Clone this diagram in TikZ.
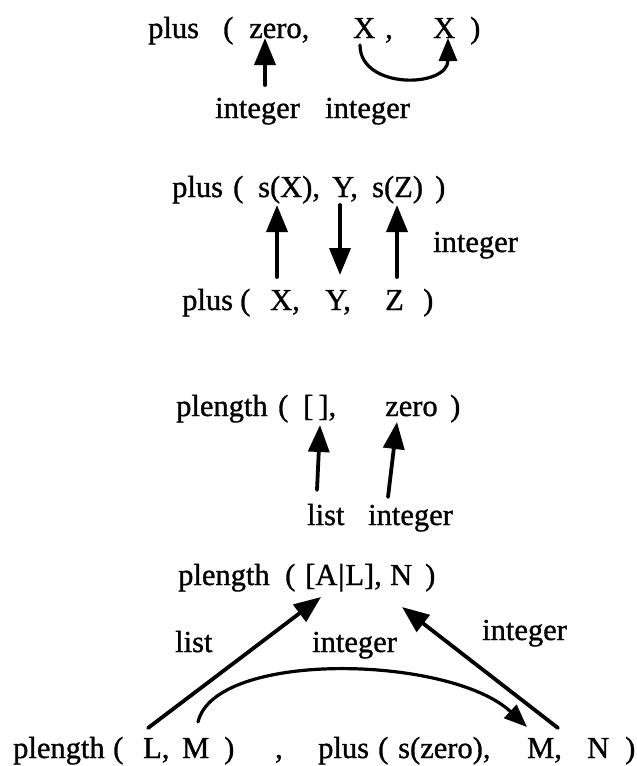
\documentclass[tikz,border=0pt]{standalone}
\usepackage{fontspec}
\setmainfont{Liberation Serif}[FakeBold=1]
\usetikzlibrary{arrows.meta}
\tikzset{
	tok/.style={anchor=base west, inner sep=0pt},
	arr/.style={line width=3.8pt, -{Triangle[length=27pt,width=21pt]}},
	carr/.style={line width=3.2pt, -{Triangle[length=23pt,width=18pt]}}
}
\begin{document}
\begin{tikzpicture}[x=1pt, y=-1pt, font=\fontsize{30.5}{36}\selectfont, line join=round, line cap=round]
			\useasboundingbox (0,0) rectangle (637,766);
			\node[tok] (p1) at (148,38) {plus};
			\node[tok] (lp1) at (223,38) {(};
			\node[tok] (z1) at (249,38) {zero,};
			\node[tok] (x1) at (353,38) {X};
			\node[tok] (c1) at (385,38) {,};
			\node[tok] (x2) at (433,38) {X};
			\node[tok] (rp1) at (470,38) {)};
			\node[tok] (i1) at (215,118) {integer};
			\node[tok] (i2) at (325,118) {integer};
			\draw[arr] ([xshift=50pt,yshift=33pt]i1.base west) -- ([xshift=16pt]z1.base west);
			\draw[carr] ([xshift=7pt,yshift=-7pt]x1.base west) .. controls +(0pt,-45pt) and +(0pt,-50pt) .. ([xshift=15pt]x2.base west);
			\node[tok] (p2) at (172,197) {plus};
			\node[tok] (lp2) at (233,197) {(};
			\node[tok] (sx) at (258,197) {s(X),};
			\node[tok] (y2) at (332,197) {Y,};
			\node[tok] (sz) at (372,197) {s(Z)};
			\node[tok] (rp2) at (435,197) {)};
			\node[tok] (p3) at (182,310) {plus};
			\node[tok] (lp3) at (240,310) {(};
			\node[tok] (x3) at (270,310) {X,};
			\node[tok] (y3) at (325,310) {Y,};
			\node[tok] (z3) at (385,310) {Z};
			\node[tok] (rp3) at (423,310) {)};
			\node[tok] (i3) at (433,252) {integer};
			\draw[arr] ([xshift=7pt,yshift=33pt]x3.base west) -- ([xshift=19pt,yshift=-8pt]sx.base west);
			\draw[arr] ([xshift=8pt,yshift=-8pt]y2.base west) -- ([xshift=15pt,yshift=35pt]y3.base west);
			\draw[arr] ([xshift=12pt,yshift=33pt]z3.base west) -- ([xshift=25pt,yshift=-8pt]sz.base west);
			\node[tok] (p4) at (176,416) {plength};
			\node[tok] (lp4) at (278,416) {(};
			\node[tok] (eb) at (303,416) {[\,],};
			\node[tok] (ze4) at (385,416) {zero};
			\node[tok] (rp4) at (450,416) {)};
			\node[tok] (l4) at (307,525) {list};
			\node[tok] (i4) at (368,525) {integer};
			\draw[arr] ([xshift=10pt,yshift=35pt]l4.base west) -- ([xshift=17pt,yshift=-9pt]eb.base west);
			\draw[arr] ([xshift=20pt,yshift=28pt]i4.base west) -- ([xshift=12pt,yshift=-6pt]ze4.base west);
			\node[tok] (p5) at (178,585) {plength};
			\node[tok] (lp5) at (285,585) {(};
			\node[tok] (al) at (305,585) {[A\kern1pt\textbar\kern1pt L],};
			\node[tok] (n5) at (390,585) {N};
			\node[tok] (rp5) at (425,585) {)};
			\node[tok] (l5) at (175,652) {list};
			\node[tok] (i5) at (312,652) {integer};
			\node[tok] (i6) at (482,640) {integer};
			\node[tok] (p6) at (13,758) {plength};
			\node[tok] (lp6) at (113,758) {(};
			\node[tok] (l6) at (143,758) {L,};
			\node[tok] (m6) at (182,758) {M};
			\node[tok] (rp6) at (224,758) {)};
			\node[tok] (cm) at (275,758) {,};
			\node[tok] (p7) at (318,758) {plus};
			\node[tok] (lp7) at (378,758) {(};
			\node[tok] (sz6) at (398,758) {s(zero),};
			\node[tok] (m7) at (527,758) {M,};
			\node[tok] (n6) at (587,758) {N};
			\node[tok] (rp7) at (625,758) {)};
			\draw[arr] ([xshift=5pt,yshift=30pt]l6.base west) -- ([xshift=16pt,yshift=-12pt]al.base west);
			\draw[arr] ([xshift=-29pt,yshift=30pt]n6.base west) -- ([xshift=12pt,yshift=-22pt]n5.base west);
			\draw[carr] ([xshift=16pt,yshift=36pt]m6.base west) .. controls +(17pt,72pt) and +(-77pt,72pt) .. ([yshift=31pt]m7.base west);
		\end{tikzpicture}
\end{document}
